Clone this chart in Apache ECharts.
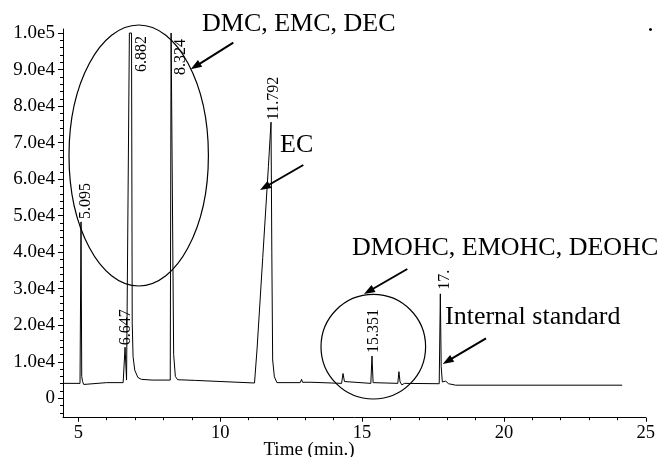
<!DOCTYPE html>
<html>
<head>
<meta charset="utf-8">
<script src="https://cdn.jsdelivr.net/npm/echarts@6/dist/echarts.min.js"></script>
<style>
  html, body { margin: 0; padding: 0; background: #fff; }
  #chart { width: 658px; height: 457px; }
</style>
</head>
<body>
<div id="chart"></div>
<script>
// Chromatogram trace: [retention time (min), detector response]
const trace = [
  [4.47, 4100], [5.06, 4100], [5.095, 48300], [5.12, 6000], [5.15, 4600],
  [5.19, 3800], [5.26, 4300], [6.00, 4300], [6.58, 4300], [6.647, 14000],
  [6.70, 5000], [6.77, 4600], [6.80, 100000], [6.875, 100000], [6.90, 20600],
  [6.93, 11400], [6.99, 7700], [7.10, 5700], [7.22, 5200], [7.60, 5000],
  [8.24, 5000], [8.27, 100000], [8.33, 100000], [8.36, 12000], [8.42, 6000],
  [8.50, 5100], [9.14, 4900], [9.20, 4400], [11.21, 4200], [11.30, 13500],
  [11.50, 38500], [11.70, 63500], [11.792, 75600], [11.82, 40000], [11.85, 10500],
  [11.91, 5900], [12.00, 4300], [12.82, 4300], [12.87, 5200], [12.90, 4400],
  [13.20, 4400], [13.25, 4100], [14.28, 4100], [14.33, 6800], [14.38, 4600],
  [14.45, 4100], [15.31, 4100], [15.351, 11600], [15.39, 4300], [16.26, 4100],
  [16.30, 7300], [16.34, 4500], [16.40, 3700], [16.50, 4100], [17.72, 4000],
  [17.76, 28600], [17.79, 8700], [17.83, 4500], [17.95, 4700], [18.05, 4000],
  [18.30, 3600], [24.17, 3600]
];

// Retention-time annotations placed above each peak
const peakTimes = [5.095, 6.647, 6.882, 8.324, 11.792, 15.351, 17.76];
const peakLabels = ['5.095', '6.647', '6.882', '8.324', '11.792', '15.351', '17.'];
const peakLabelBase = [48300, 14000, 89300, 88500, 75600, 11600, 28600];

// Axis ticks
const xMajorTicks = [5, 10, 15, 20, 25];
const xMinorTicks = [6, 7, 8, 9, 11, 12, 13, 14, 16, 17, 18, 19, 21, 22, 23, 24];
const yMajorTicks = [0, 10000, 20000, 30000, 40000, 50000, 60000, 70000, 80000, 90000, 100000];
const yTickLabels = ['0', '1.0e4', '2.0e4', '3.0e4', '4.0e4', '5.0e4', '6.0e4', '7.0e4', '8.0e4', '9.0e4', '1.0e5'];
const yMinorTicks = [];
for (let v = -4000; v <= 100000; v += 2000) yMinorTicks.push(v);

const FONT = '"Liberation Serif", "Times New Roman", serif';
const INK = '#000';

// small pixel nudges for the rotated retention-time labels
const labelNudge = [[4.5, -3], [1, -2], [10, 0], [8.5, 0], [2.5, -2], [2, -3], [4, -4]];

function arrow(x1, y1, x2, y2) {
  const dx = x2 - x1, dy = y2 - y1, len = Math.hypot(dx, dy);
  const ux = dx / len, uy = dy / len;
  const head = 11, half = 4;
  const bx = x2 - ux * head, by = y2 - uy * head;
  return [
    { type: 'line', shape: { x1: x1, y1: y1, x2: bx + ux * 2, y2: by + uy * 2 },
      style: { stroke: INK, lineWidth: 2 } },
    { type: 'polygon',
      shape: { points: [[x2, y2], [bx - uy * half, by + ux * half], [bx + uy * half, by - ux * half]] },
      style: { fill: INK } }
  ];
}

function note(text, x, y, size) {
  return { type: 'text', x: x, y: y,
    style: { text: text, fill: INK, fontFamily: FONT, fontSize: size || 26,
             align: 'left', verticalAlign: 'middle' } };
}

const chart = echarts.init(document.getElementById('chart'), null, { renderer: 'canvas' });

const option = {
  animation: false,
  backgroundColor: '#fff',
  grid: { left: 63, right: 9.7, top: 29, bottom: 39.3, containLabel: false },
  xAxis: [
    {
      type: 'value', min: 4.46, max: 25, position: 'bottom',
      axisLine: { show: true, onZero: false, lineStyle: { color: INK, width: 1 } },
      axisTick: { show: true, customValues: xMajorTicks, length: 4, lineStyle: { color: INK } },
      axisLabel: { customValues: xMajorTicks, color: INK, fontFamily: FONT, fontSize: 18.5, margin: 6 },
      splitLine: { show: false }
    },
    {
      type: 'value', min: 4.46, max: 25, position: 'bottom', gridIndex: 0,
      axisLine: { show: false, onZero: false },
      axisTick: { show: true, customValues: xMinorTicks, length: 2.5, lineStyle: { color: INK } },
      axisLabel: { show: false },
      splitLine: { show: false }
    }
  ],
  yAxis: [
    {
      type: 'value', min: -5300, max: 101100, position: 'left',
      axisLine: { show: true, onZero: false, lineStyle: { color: INK, width: 1 } },
      axisTick: { show: true, customValues: yMajorTicks, length: 5, lineStyle: { color: INK } },
      axisLabel: {
        customValues: yMajorTicks, color: INK, fontFamily: FONT, fontSize: 19, margin: 8,
        formatter: function (v) { return yTickLabels[yMajorTicks.indexOf(v)]; }
      },
      splitLine: { show: false }
    },
    {
      type: 'value', min: -5300, max: 101100, position: 'left', gridIndex: 0,
      axisLine: { show: false, onZero: false },
      axisTick: { show: true, customValues: yMinorTicks, length: 3, lineStyle: { color: INK } },
      axisLabel: { show: false },
      splitLine: { show: false }
    }
  ],
  series: [
    {
      name: 'TIC', type: 'line', xAxisIndex: 0, yAxisIndex: 0,
      data: trace, showSymbol: false, symbol: 'none', smooth: false,
      lineStyle: { color: INK, width: 1 }, silent: true
    },
    {
      name: 'peak labels', type: 'custom', xAxisIndex: 0, yAxisIndex: 0,
      data: peakTimes.map(function (t, i) { return [t, peakLabelBase[i]]; }),
      encode: { x: 0, y: 1 }, clip: false, silent: true,
      renderItem: function (params, api) {
        const i = params.dataIndex;
        const p = api.coord([api.value(0), api.value(1)]);
        const n = labelNudge[i];
        return {
          type: 'text', x: p[0] + n[0], y: p[1] + n[1], rotation: Math.PI / 2,
          style: { text: peakLabels[i], fill: INK, fontFamily: FONT, fontSize: 16,
                   align: 'left', verticalAlign: 'middle' }
        };
      }
    }
  ],
  graphic: [].concat(
    [
      { type: 'ellipse', shape: { cx: 138.7, cy: 155.5, rx: 69.7, ry: 130.5 },
        style: { fill: 'none', stroke: INK, lineWidth: 1.2 } },
      { type: 'circle', shape: { cx: 373.3, cy: 346.7, r: 52.3 },
        style: { fill: 'none', stroke: INK, lineWidth: 1.2 } },
      note('DMC, EMC, DEC', 202, 23.7),
      note('EC', 280, 144.7),
      note('DMOHC, EMOHC, DEOHC', 352, 248),
      note('Internal standard', 445, 317.5),
      note('.', 647.3, 24),
      { type: 'text', x: 309, y: 450.5,
        style: { text: 'Time (min.)', fill: INK, fontFamily: FONT, fontSize: 19,
                 align: 'center', verticalAlign: 'middle' } }
    ],
    arrow(233.3, 42.7, 190.7, 69.3),
    arrow(303.3, 165, 260, 190),
    arrow(407.3, 269, 364, 294),
    arrow(486, 338.3, 442.7, 364)
  )
};

chart.setOption(option);
</script>
</body>
</html>
